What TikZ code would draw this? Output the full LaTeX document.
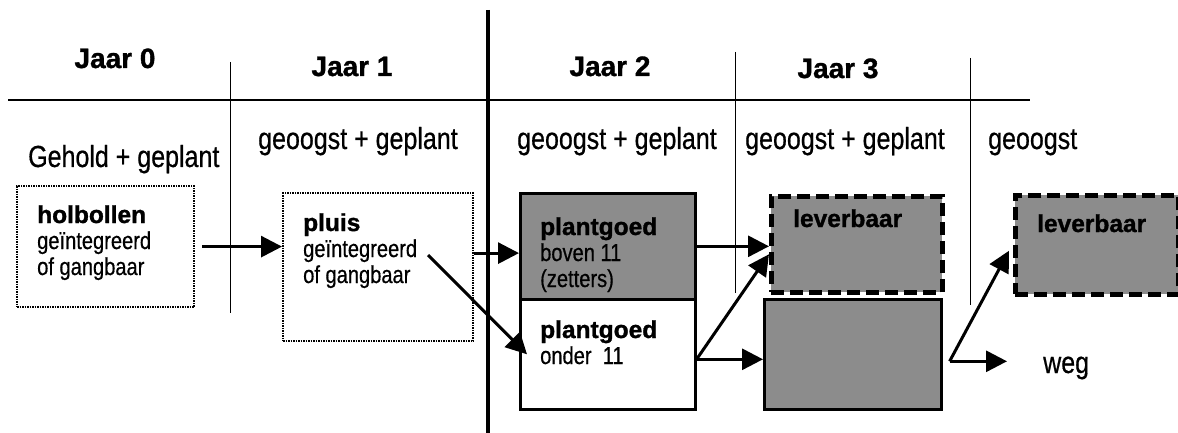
\documentclass[tikz,border=0pt]{standalone}
\usepackage{fontspec}
\setmainfont{Liberation Sans}[BoldFeatures={FakeBold=1.2}]
\newfontfamily\smalfont[FakeStretch=0.82,FakeBold=0.6]{Liberation Sans}
\newcommand\vet[1]{{\normalfont\bfseries #1}}
\usetikzlibrary{arrows.meta}
\begin{document}
\begin{tikzpicture}[x=1pt,y=-1pt,>={Triangle[length=21pt,width=21pt]},
	jaar/.style={anchor=base,inner sep=0,font=\fontsize{28}{30}\selectfont\bfseries},
	fase/.style={anchor=base west,inner sep=0,font=\fontsize{30.5}{32}\selectfont\smalfont},
	vak/.style={anchor=north west,inner sep=0,line width=2.6pt},
	stip/.style={vak,draw,line width=2.2pt,dash pattern=on 1.6pt off 0.9pt},
	streep/.style={vak,draw,line width=4.5pt,dash pattern=on 13pt off 6pt,fill=black!45},
	tekst/.style={anchor=base west,inner sep=0,align=left,font=\fontsize{24.5}{26}\selectfont\smalfont},
	pijl/.style={->,line width=3pt}]
		\useasboundingbox (0,0) rectangle (1178,433);
		\draw[line width=2.6pt](8,100)--(1030,100);
		\draw[line width=4pt](488,10)--(488,433);
		\draw[line width=1pt](230,62)--(230,313);
		\draw[line width=1pt](735,52)--(735,293);
		\draw[line width=1pt](970,58)--(970,305);
		\node (j0)[jaar]at (115,68) {Jaar 0};
		\node (j1)[jaar]at (352,76) {Jaar 1};
		\node (j2)[jaar]at (610,76) {Jaar 2};
		\node (j3)[jaar]at (838,78) {Jaar 3};
		\node (f0)[fase]at (28,167) {Gehold + geplant};
		\node (f1)[fase]at (258,149) {geoogst + geplant};
		\node (f2)[fase]at (517,149) {geoogst + geplant};
		\node (f3)[fase]at (745,149) {geoogst + geplant};
		\node (f4)[fase]at (988,149) {geoogst};
		\node (hol)[stip, minimum width=177pt, minimum height=121pt]at (16,185) {};
		\node (pluis)[stip, minimum width=190pt, minimum height=148pt]at (282,192) {};
		\node (boven)[vak, draw, fill=black!45, minimum width=175pt, minimum height=106pt]at (519,192) {};
		\node (onder)[vak, draw, minimum width=175pt, minimum height=110pt]at (519,298) {};
		\node (lev1)[streep, minimum width=171pt, minimum height=96pt]at (769,194) {};
		\node (rest)[vak, draw, fill=black!45, minimum width=177pt, minimum height=110pt]at (763,298) {};
		\node (lev2)[streep, minimum width=163pt, minimum height=99pt]at (1013,193) {};
		% laatste regel op de basislijn
		\node (tHol)[tekst]at (37,275) {\vet{holbollen}\\geïntegreerd\\of gangbaar};
		\node (tPluis)[tekst]at (303,283) {\vet{pluis}\\geïntegreerd\\of gangbaar};
		\node (tBoven)[tekst]at (540,287) {\vet{plantgoed}\\boven 11\\(zetters)};
		\node (tOnder)[tekst]at (540,364) {\vet{plantgoed}\\onder\ \ 11};
		\node (tLev1)[tekst]at (793,227) {\vet{leverbaar}};
		\node (tLev2)[tekst]at (1037,232) {\vet{leverbaar}};
		\node (weg)[fase]at (1043,373) {weg};
		\coordinate (pk) at (428,255);
		\coordinate (ok) at ([yshift=-5pt]onder.east);
		\coordinate (rk) at ([shift={(7pt,-7pt)}]rest.east);
		\draw[pijl]([xshift=7pt]hol.east)--(hol.east -| pluis.west);
		\draw[pijl]([yshift=14pt]pluis.east)--([yshift=14pt]pluis.east -| boven.west);
		\draw[pijl](pk)--([xshift=8pt]onder.west);
		\draw[pijl](boven.east)--(boven.east -| lev1.west);
		\draw[pijl](ok)--([yshift=-10pt]lev1.west);
		\draw[pijl](ok)--(ok -| rest.west);
		\draw[pijl](rk)--([shift={(-4pt,-6pt)}]lev2.west);
		\draw[pijl, shorten >=36pt](rk)--(rk -| weg.west);
	\end{tikzpicture}
\end{document}
